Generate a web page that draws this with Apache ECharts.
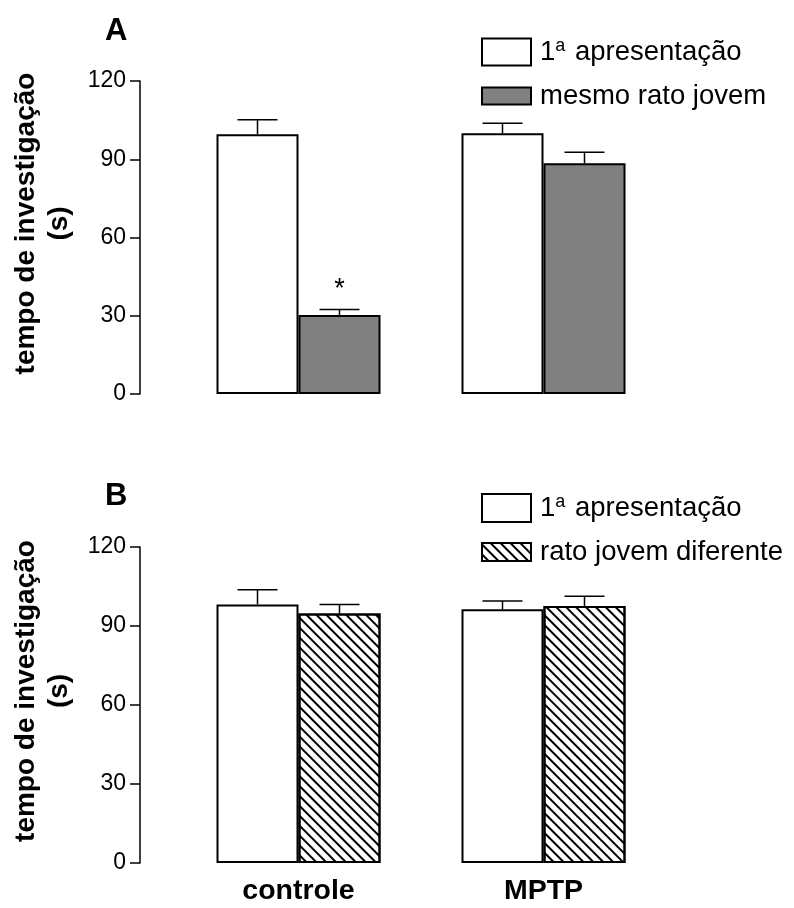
<!DOCTYPE html>
<html>
<head>
<meta charset="utf-8">
<script src="https://cdn.jsdelivr.net/npm/echarts@6/dist/echarts.min.js"></script>
<style>
  html, body { margin: 0; padding: 0; background: #fff; }
  #chart { width: 794px; height: 908px; }
</style>
</head>
<body>
<div id="chart"></div>
<script>
// ---- data ----
var categories = ['controle', 'MPTP'];
var yMin = 0, yMax = 120, yStep = 30;
var nameFirst = '1ª apresentação';
var nameSame = 'mesmo rato jovem';
var nameDiff = 'rato jovem diferente';
// Panel A
var firstA = [99.6, 100.0];
var errFirstA = [5.5, 3.8];
var sameA = [30.3, 88.5];
var errSameA = [2.1, 4.2];
var sigSameA = ['*', ''];
// Panel B
var firstB = [98.2, 96.4];
var errFirstB = [5.6, 3.1];
var diffB = [94.7, 97.6];
var errDiffB = [3.5, 3.7];

var FONT = 'Liberation Sans, Arial, Helvetica, sans-serif';
var BAR_W = 82;

function errData(vals, errs, sig) {
  return vals.map(function (v, i) { return [i, v, errs[i]]; });
}
function errSeries(name, vals, errs, side, axisIdx, sig) {
  return {
    type: 'custom',
    name: name + ' SEM',
    xAxisIndex: axisIdx, yAxisIndex: axisIdx,
    silent: true, clip: false, z: 5,
    encode: { x: 0, y: 1 },
    data: errData(vals, errs, sig),
    renderItem: function (params, api) {
      var c = api.value(0), v = api.value(1), e = api.value(2);
      var s = sig ? sig[params.dataIndex] : '';
      var base = api.coord([c, v]);
      var top = api.coord([c, v + e]);
      var x = base[0] + side * BAR_W / 2;
      var st = { stroke: '#000', lineWidth: 1.5 };
      var kids = [
        { type: 'line', shape: { x1: x, y1: base[1], x2: x, y2: top[1] }, style: st },
        { type: 'line', shape: { x1: x - 20, y1: top[1], x2: x + 20, y2: top[1] }, style: st }
      ];
      if (s) {
        kids.push({ type: 'text', style: { text: s, x: x, y: top[1] - 6, align: 'center', verticalAlign: 'bottom',
          font: '27px ' + FONT, fill: '#000' } });
      }
      return { type: 'group', children: kids };
    }
  };
}

var yAxisBase = function (gi) {
  return {
    type: 'value', gridIndex: gi, min: yMin, max: yMax, interval: yStep, offset: 36,
    name: 'tempo de investigação\n(s)', nameLocation: 'middle', nameGap: 64, nameRotate: 90,
    nameTextStyle: { fontFamily: FONT, fontWeight: 'bold', fontSize: 28, lineHeight: 33, color: '#000',
      padding: [0, 0, 0, 28] },
    axisLine: { show: true, lineStyle: { color: '#000', width: 1.5 } },
    axisTick: { show: true, length: 10, lineStyle: { color: '#000', width: 1.5 } },
    axisLabel: { fontFamily: FONT, fontSize: 23, color: '#000', margin: 14 },
    splitLine: { show: false }
  };
};
var xAxisBase = function (gi, showLabel) {
  return {
    type: 'category', gridIndex: gi, data: categories,
    axisLine: { show: false }, axisTick: { show: false },
    axisLabel: { show: showLabel, fontFamily: FONT, fontWeight: 'bold', fontSize: 28.5, color: '#000', margin: 14 }
  };
};
var barStyleWhite = { color: '#fff', borderColor: '#000', borderWidth: 2 };
var barStyleGray = { color: '#808080', borderColor: '#000', borderWidth: 2 };
var barStyleHatch = { color: '#fff', borderColor: '#000', borderWidth: 2,
  decal: { symbol: 'rect', symbolSize: 1, dashArrayX: [1, 0], dashArrayY: [1.2, 4.6], rotation: Math.PI / 4, color: '#000' } };

function legendItem(name, left, top, h) {
  return {
    data: [name], left: left, top: top, itemWidth: 49, itemHeight: h, selectedMode: false,
    icon: 'rect', padding: 0,
    formatter: function (n) { return n === nameFirst ? '1{sup|a} apresentação' : n; },
    textStyle: { fontFamily: FONT, fontSize: 27.5, color: '#000', padding: [0, 0, 0, 4],
      rich: { sup: { fontFamily: FONT, fontSize: 18, verticalAlign: 'top', padding: [0, 2, 12, 0], color: '#000' } } }
  };
}

var option = {
  backgroundColor: '#fff',
  animation: false,
  aria: { enabled: false },
  title: [
    { text: 'A', left: 100, top: 11, textStyle: { fontFamily: FONT, fontWeight: 'bold', fontSize: 31, color: '#000' } },
    { text: 'B', left: 100, top: 476, textStyle: { fontFamily: FONT, fontWeight: 'bold', fontSize: 31, color: '#000' } }
  ],
  legend: [
    legendItem(nameFirst, 481, 37, 27),
    legendItem(nameSame, 481, 82, 17),
    legendItem(nameFirst, 481, 493, 28),
    legendItem(nameDiff, 481, 538, 18)
  ],
  grid: [
    { left: 176, width: 490, top: 81, height: 313 },
    { left: 176, width: 490, top: 547, height: 316 }
  ],
  xAxis: [xAxisBase(0, false), xAxisBase(1, true)],
  yAxis: [yAxisBase(0), yAxisBase(1)],
  series: [
    { type: 'bar', name: nameFirst, xAxisIndex: 0, yAxisIndex: 0, data: firstA, barWidth: BAR_W, barGap: '0%', itemStyle: barStyleWhite },
    { type: 'bar', name: nameSame, xAxisIndex: 0, yAxisIndex: 0, data: sameA, barWidth: BAR_W, barGap: '0%', itemStyle: barStyleGray },
    { type: 'bar', name: nameFirst, xAxisIndex: 1, yAxisIndex: 1, data: firstB, barWidth: BAR_W, barGap: '0%', itemStyle: barStyleWhite },
    { type: 'bar', name: nameDiff, xAxisIndex: 1, yAxisIndex: 1, data: diffB, barWidth: BAR_W, barGap: '0%', itemStyle: barStyleHatch },
    errSeries(nameFirst + ' A', firstA, errFirstA, -1, 0),
    errSeries(nameSame, sameA, errSameA, 1, 0, sigSameA),
    errSeries(nameFirst + ' B', firstB, errFirstB, -1, 1),
    errSeries(nameDiff, diffB, errDiffB, 1, 1)
  ]
};

var chart = echarts.init(document.getElementById('chart'), null, { renderer: 'canvas' });
chart.setOption(option);
</script>
</body>
</html>
